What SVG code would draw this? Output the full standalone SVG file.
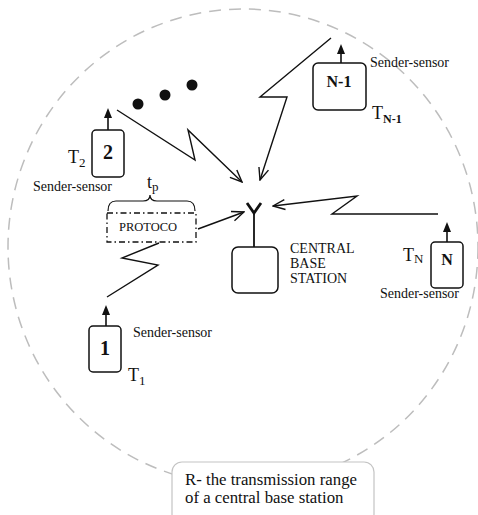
<svg xmlns="http://www.w3.org/2000/svg" width="478" height="515" viewBox="0 0 478 515" font-family="Liberation Serif">
<style>
text, tspan{font-family:Liberation Serif, serif;fill:#111}
.box{fill:#fff;stroke:#111;stroke-width:1.5}
.ln{fill:none;stroke:#111;stroke-width:1.4}
.up{fill:none;stroke:#111;stroke-width:1.6}
.b{font-weight:bold}
</style>
<defs>
<marker id="open" viewBox="0 0 14 12" refX="13" refY="6" markerWidth="14" markerHeight="12" markerUnits="userSpaceOnUse" orient="auto">
<path d="M1,1 L13,6 L1,11" fill="none" stroke="#111" stroke-width="1.4"/>
</marker>
</defs>
<rect width="478" height="515" fill="#fff"/>
<ellipse cx="243" cy="247" rx="235" ry="238" fill="none" stroke="#bdbdbd" stroke-width="1.5" stroke-dasharray="12 8"/>
<g id="range-label">
<rect x="172" y="462" width="202" height="62" rx="10" fill="#fff" stroke="#c4c4c4" stroke-width="1.2"/>
<text x="185" y="485" font-size="16.8">R- the transmission range</text>
<text x="185" y="503" font-size="16.8">of a central base station</text>
</g>
<g id="dots" fill="#111">
<circle cx="138" cy="104" r="5.5"/>
<circle cx="165" cy="95" r="5.5"/>
<circle cx="192" cy="85" r="5.5"/>
</g>
<g id="connectors">
<polyline class="ln" points="117,110 195,160 188,130 242,182" marker-end="url(#open)"/>
<polyline class="ln" points="331,38 260,97 287,97 260,180" marker-end="url(#open)"/>
<polyline class="ln" points="438,214 332,214 357,196 273,206" marker-end="url(#open)"/>
<line class="ln" x1="198" y1="229" x2="244" y2="212" marker-end="url(#open)"/>
<polyline class="ln" points="107,297 158,265 122,258 159,243"/>
</g>
<g id="sensor-2">
<rect class="box" x="92" y="130" width="32" height="47" rx="4"/>
<line class="up" x1="108" y1="130" x2="108" y2="112"/>
<path d="M104,118 L108,108 L112,118 Z" fill="#111"/>
<text class="b" x="108" y="159" font-size="20" text-anchor="middle">2</text>
<text x="68" y="163" font-size="18">T<tspan font-size="13" dy="4">2</tspan></text>
<text x="33" y="191" font-size="14">Sender-sensor</text>
</g>
<g id="sensor-1">
<rect class="box" x="89" y="326" width="32" height="46" rx="4"/>
<line class="up" x1="106" y1="326" x2="106" y2="309"/>
<path d="M102,315 L106,305 L110,315 Z" fill="#111"/>
<text class="b" x="105" y="355" font-size="20" text-anchor="middle">1</text>
<text x="133" y="337" font-size="14">Sender-sensor</text>
<text x="128" y="381" font-size="18">T<tspan font-size="13" dy="4">1</tspan></text>
</g>
<g id="sensor-n-1">
<rect class="box" x="313" y="63" width="53" height="47" rx="5"/>
<line class="up" x1="341" y1="63" x2="341" y2="48"/>
<path d="M337,54 L341,44 L345,54 Z" fill="#111"/>
<text class="b" x="339" y="87" font-size="16" text-anchor="middle">N-1</text>
<text x="370" y="67" font-size="14">Sender-sensor</text>
<text x="372" y="119" font-size="18">T<tspan class="b" font-size="12" dy="4">N-1</tspan></text>
</g>
<g id="sensor-n">
<rect class="box" x="431" y="242" width="32" height="46" rx="4"/>
<line class="up" x1="447" y1="242" x2="447" y2="226"/>
<path d="M443,232 L447,222 L451,232 Z" fill="#111"/>
<text class="b" x="447" y="265" font-size="16" text-anchor="middle">N</text>
<text x="403" y="261" font-size="18">T<tspan font-size="13" dy="2">N</tspan></text>
<text x="380" y="298" font-size="14">Sender-sensor</text>
</g>
<g id="protocol">
<rect x="107" y="213" width="89" height="29" fill="none" stroke="#111" stroke-width="1.3" stroke-dasharray="6 3 1.5 3"/>
<text x="119" y="231" font-size="12.5">PROTOCO</text>
<path d="M108,211 Q108,201 116,201 L143,201 Q150,201 150,195 Q150,201 157,201 L187,201 Q195,201 195,211" fill="none" stroke="#111" stroke-width="1.2"/>
<text x="147" y="188" font-size="18">t<tspan font-size="13" dy="3">p</tspan></text>
</g>
<g id="base-station">
<rect class="box" x="232" y="247" width="46" height="46" rx="6"/>
<line x1="254" y1="247" x2="254" y2="213" stroke="#111" stroke-width="1.8"/>
<polyline points="247,203 254,213 261,203" fill="none" stroke="#111" stroke-width="2.8"/>
<text x="290" y="253" font-size="14">CENTRAL</text>
<text x="290" y="268" font-size="14">BASE</text>
<text x="290" y="283" font-size="14">STATION</text>
</g>
</svg>
